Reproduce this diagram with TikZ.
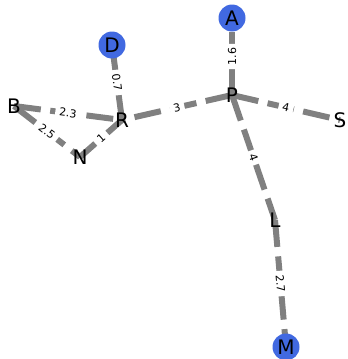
\documentclass[tikz,border=0pt]{standalone}
\usepackage{fontspec}
\setmainfont{DejaVu Sans}
\usetikzlibrary{backgrounds}
\definecolor{nodeblue}{HTML}{4169E1}
\definecolor{edgegray}{HTML}{808080}
\tikzset{
  vtx/.style={inner sep=0pt, font=\fontsize{20}{20}\selectfont},
  hub/.style={vtx, circle, fill=nodeblue, minimum size=27pt},
  link/.style={draw=edgegray, line width=6pt, dash pattern=on 27pt off 9.5pt},
  lbl/.style={fill=white, rounded corners=3pt, inner xsep=4pt, inner ysep=2.5pt, sloped,
              font=\fontsize{11}{11}\selectfont, text=black}
}
\begin{document}
\begin{tikzpicture}[x=1pt, y=-1pt]
  \useasboundingbox (0,0) rectangle (348,359);
  % vertices
  \node[hub] (D) at (112,45) {D};
  \node[hub] (A) at (232,18) {A};
  \node[hub] (M) at (286,347) {M};
  \node[vtx] (B) at (14,106) {B};
  \node[vtx] (R) at (122,120) {R};
  \node[vtx] (N) at (80,157) {N};
  \node[vtx] (P) at (232,95) {P};
  \node[vtx] (S) at (340,120) {S};
  \node[vtx] (L) at (275,220) {L};
  % weighted edges behind the vertices
  \begin{pgfonlayer}{background}
    \draw[link] (B.center) -- node[lbl] {2.3} (R.center);
    \draw[link] (B.center) -- node[lbl] {2.5} (N.center);
    \draw[link] (N.center) -- node[lbl] {1} (R.center);
    \draw[link] (R.center) -- node[lbl] {0.7} (D.center);
    \draw[link] (P.center) -- node[lbl] {3} (R.center);
    \draw[link] (P.center) -- node[lbl] {1.6} (A.center);
    \draw[link] (P.center) -- node[lbl] {4} (S.center);
    \draw[link] (P.center) -- node[lbl] {4} (L.center);
    \draw[link] (L.center) -- node[lbl] {2.7} (M.center);
  \end{pgfonlayer}
\end{tikzpicture}
\end{document}
